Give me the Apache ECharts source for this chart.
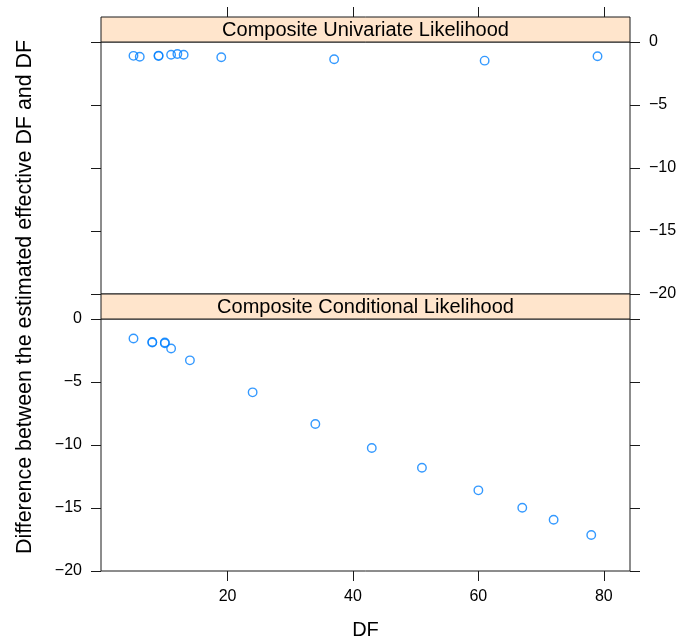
<!DOCTYPE html>
<html>
<head>
<meta charset="utf-8">
<title>DF difference</title>
<script src="https://cdn.jsdelivr.net/npm/echarts@6/dist/echarts.min.js"></script>
<style>
html, body { margin: 0; padding: 0; background: #fff; }
#chart { width: 692px; height: 641px; }
</style>
</head>
<body>
<div id="chart"></div>
<script>
// data
const univDF = [5, 6, 9, 9, 11, 12, 13, 19, 37, 61, 79];
const univDiff = [-1.10, -1.17, -1.08, -1.12, -1.01, -0.95, -1.01, -1.21, -1.37, -1.48, -1.13];
const condDF = [5, 8, 8, 10, 10, 11, 14, 24, 34, 43, 51, 60, 67, 72, 78];
const condDiff = [-1.55, -1.82, -1.87, -1.87, -1.92, -2.34, -3.28, -5.82, -8.33, -10.24, -11.80, -13.60, -14.98, -15.93, -17.14];

const panelTitles = ['Composite Univariate Likelihood', 'Composite Conditional Likelihood'];
const xTicks = [20, 40, 60, 80];
const yTicks = [0, -5, -10, -15, -20];
const xTitle = 'DF';
const yTitle = 'Difference between the estimated effective DF and DF';

// layout (lattice-like)
const W = 692;
const L = 101, R = 630;
const T1 = 42, H = 252, STRIP = 25;
const T2 = T1 + H + STRIP;
const FONT = '"Liberation Sans", Arial, Helvetica, sans-serif';
const LINE = '#1a1a1a';
const PCOL = '#0080ff';

// lattice pads the x range by 7%
const allX = univDF.concat(condDF);
const xLo = Math.min(...allX), xHi = Math.max(...allX);
const xMin = xLo - 0.07 * (xHi - xLo);
const xMax = xHi + 0.07 * (xHi - xLo);

const fmt = (v) => String(v).replace('-', '\u2212');

function xAx(gridIndex, position, showLabel, offset) {
	return {
		type: 'value',
		gridIndex: gridIndex,
		position: position,
		offset: offset || 0,
		min: xMin,
		max: xMax,
		axisLine: { show: false, onZero: false },
		splitLine: { show: false },
		axisTick: { show: true, length: 10, customValues: xTicks, lineStyle: { color: LINE, width: 1 } },
		axisLabel: {
			show: showLabel,
			customValues: xTicks,
			margin: 18,
			color: '#000',
			fontSize: 16,
			fontFamily: FONT,
		},
	};
}

function yAx(gridIndex, position, showLabel) {
	return {
		type: 'value',
		gridIndex: gridIndex,
		position: position,
		min: -20,
		max: 0,
		axisLine: { show: false, onZero: false },
		splitLine: { show: false },
		axisTick: { show: true, length: 10, customValues: yTicks, lineStyle: { color: LINE, width: 1 } },
		axisLabel: {
			show: showLabel,
			customValues: yTicks,
			margin: 19,
			color: '#000',
			fontSize: 16,
			fontFamily: FONT,
			formatter: fmt,
		},
	};
}

function textStyle(text, size) {
	return {
		text: text,
		font: size + 'px ' + FONT,
		fill: '#000',
		align: 'center',
		verticalAlign: 'middle',
		textAlign: 'center',
		textVerticalAlign: 'middle',
	};
}

function strip(top, title) {
	return [
		{
			type: 'rect',
			shape: { x: L, y: top, width: R - L, height: STRIP },
			style: { fill: '#ffe5cc', stroke: LINE, lineWidth: 1 },
			z: 10,
		},
		{ type: 'text', x: (L + R) / 2, y: top + STRIP / 2 + 1, style: textStyle(title, 20), z: 11 },
	];
}

function pairs(xs, ys) {
	return xs.map((x, i) => [x, ys[i]]);
}

const pointStyle = {
	symbol: 'circle',
	symbolSize: 8.5,
	itemStyle: { color: 'rgba(0,0,0,0)', borderColor: PCOL, borderWidth: 1.4 },
	emphasis: { disabled: true },
};

const chart = echarts.init(document.getElementById('chart'));
chart.setOption({
	animation: false,
	backgroundColor: '#fff',
	grid: [
		{ left: L, right: W - R, top: T1, height: H, show: true, borderColor: LINE, borderWidth: 1, backgroundColor: 'transparent' },
		{ left: L, right: W - R, top: T2, height: H, show: true, borderColor: LINE, borderWidth: 1, backgroundColor: 'transparent' },
	],
	xAxis: [
		// top panel: ticks only, drawn above the strip
		xAx(0, 'top', false, STRIP),
		// bottom panel: labelled axis
		xAx(1, 'bottom', true, 0),
	],
	yAxis: [
		yAx(0, 'right', true),
		yAx(0, 'left', false),
		yAx(1, 'left', true),
		yAx(1, 'right', false),
	],
	series: [
		Object.assign({ type: 'scatter', xAxisIndex: 0, yAxisIndex: 0, data: pairs(univDF, univDiff) }, pointStyle),
		Object.assign({ type: 'scatter', xAxisIndex: 1, yAxisIndex: 2, data: pairs(condDF, condDiff) }, pointStyle),
	],
	graphic: [
		...strip(T1 - STRIP, panelTitles[0]),
		...strip(T2 - STRIP, panelTitles[1]),
		{ type: 'text', x: (L + R) / 2, y: 630, style: textStyle(xTitle, 20) },
		{ type: 'text', x: 25, y: 297, rotation: Math.PI / 2, style: textStyle(yTitle, 21.4) },
	],
});
</script>
</body>
</html>
